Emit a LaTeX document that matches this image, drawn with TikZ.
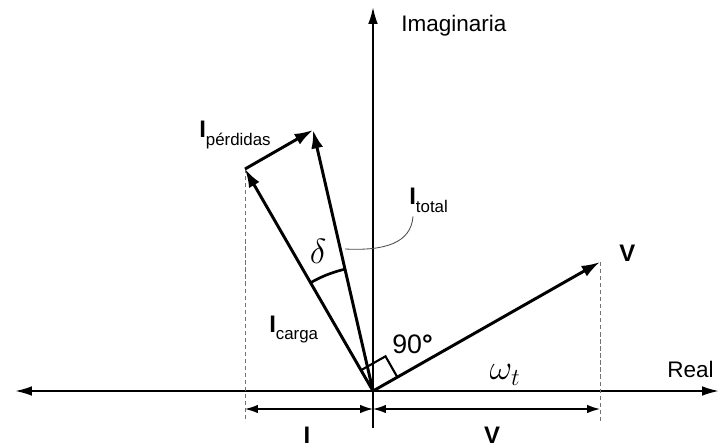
\documentclass[tikz,border=0pt]{standalone}
\usepackage{fontspec}
\setmainfont{Liberation Sans}
\usetikzlibrary{arrows.meta,calc}
\tikzset{
  axis/.style={{Latex[length=4.2mm,width=2.4mm]}-{Latex[length=4.2mm,width=2.4mm]}, draw=black, line width=1.4pt},
  vaxis/.style={-{Latex[length=4.2mm,width=2.4mm]}, draw=black, line width=1.4pt},
  vec/.style={-{Latex[length=4.6mm,width=3.0mm]}, draw=black, line width=2.1pt},
  dim/.style={{Latex[length=3.2mm,width=2.1mm]}-{Latex[length=3.2mm,width=2.1mm]}, draw=black, line width=1.0pt},
  guide/.style={draw=black!55, dashed, dash pattern=on 3pt off 2pt, line width=0.7pt},
  leader/.style={draw=black!70, line width=0.6pt},
  axisLabel/.style={font=\fontsize{16}{18}\selectfont, inner sep=0pt},
  vecLabel/.style={font=\fontsize{17}{19}\selectfont\bfseries, inner sep=0pt},
  mathLabel/.style={font=\fontsize{23}{25}\selectfont, inner sep=0pt}
}
\newcommand{\lowsub}[1]{\raisebox{-5pt}{\fontsize{12}{13}\mdseries\selectfont #1}}

\begin{document}
\begin{tikzpicture}[x=0.025cm,y=0.025cm]
\useasboundingbox (-373,-56) rectangle (347,391);

% --------------------------------------------------------------------------
% Axes
% --------------------------------------------------------------------------
\coordinate (O) at (0,0);
\coordinate (axL) at (-358,0);
\coordinate (axR) at (346,0);
\coordinate (axBot) at (0,-37);
\coordinate (axTop) at (0,384);
\draw[axis] (axL) -- (axR);
\draw[vaxis] (axBot) -- (axTop);
\node[axisLabel, anchor=west] (imLbl) at (28,365) {Imaginaria};
\node[axisLabel, anchor=west] (reLbl) at (294,22) {Real};

% --------------------------------------------------------------------------
% Phasors
% --------------------------------------------------------------------------
\coordinate (vTip) at (227,129);
\coordinate (cargaTip) at (-128,222);
\coordinate (totalTip) at (-60,261);

\draw[guide] (cargaTip) -- (cargaTip |- 0,-31);
\draw[guide] (vTip) -- (vTip |- 0,-31);

\draw[vec] (O) -- (vTip);
\draw[vec] (O) -- (cargaTip);
\draw[vec] (O) -- (totalTip);
\draw[vec] (cargaTip) -- (totalTip);

% right angle between V and I carga, delta arc
\draw[line width=1.5pt, rotate=29.6] (28,0) -- (28,24) -- (0,24);
\draw[line width=1.9pt] (103:125) arc[start angle=103, end angle=120, radius=125];

\node[vecLabel, anchor=west] (vLbl) at (246,138) {V};
\node[vecLabel, anchor=base west] (perdLbl) at (-174,253) {I\lowsub{pérdidas}};
\node[vecLabel, anchor=base west] (totalLbl) at (36,186) {I\lowsub{total}};
\node[vecLabel, anchor=base west] (cargaLbl) at (-104,59) {I\lowsub{carga}};
\node[mathLabel] (deltaLbl) at (-55,140) {$\delta$};
\node[font=\fontsize{19}{21}\selectfont, inner sep=0pt, anchor=base west] (angLbl) at (19,38) {90\textbf{°}};
\node[mathLabel] (omegaLbl) at (132,16) {$\omega_t$};

\coordinate (leadEnd) at (-28,142);
\draw[leader] (totalLbl.south west) ++(4,-4) .. controls (38,148) and (12,140) .. (leadEnd);

% --------------------------------------------------------------------------
% Projections on the real axis
% --------------------------------------------------------------------------
\coordinate (dimL) at (-128,-18);
\coordinate (dimM) at (0,-18);
\coordinate (dimR) at (227,-18);
\draw[dim] (dimL) -- (dimM);
\draw[dim] (dimM) -- (dimR);
\node[vecLabel] (iLbl) at (-66,-44) {I};
\node[vecLabel] (vdLbl) at (119,-44) {V};

\end{tikzpicture}
\end{document}
